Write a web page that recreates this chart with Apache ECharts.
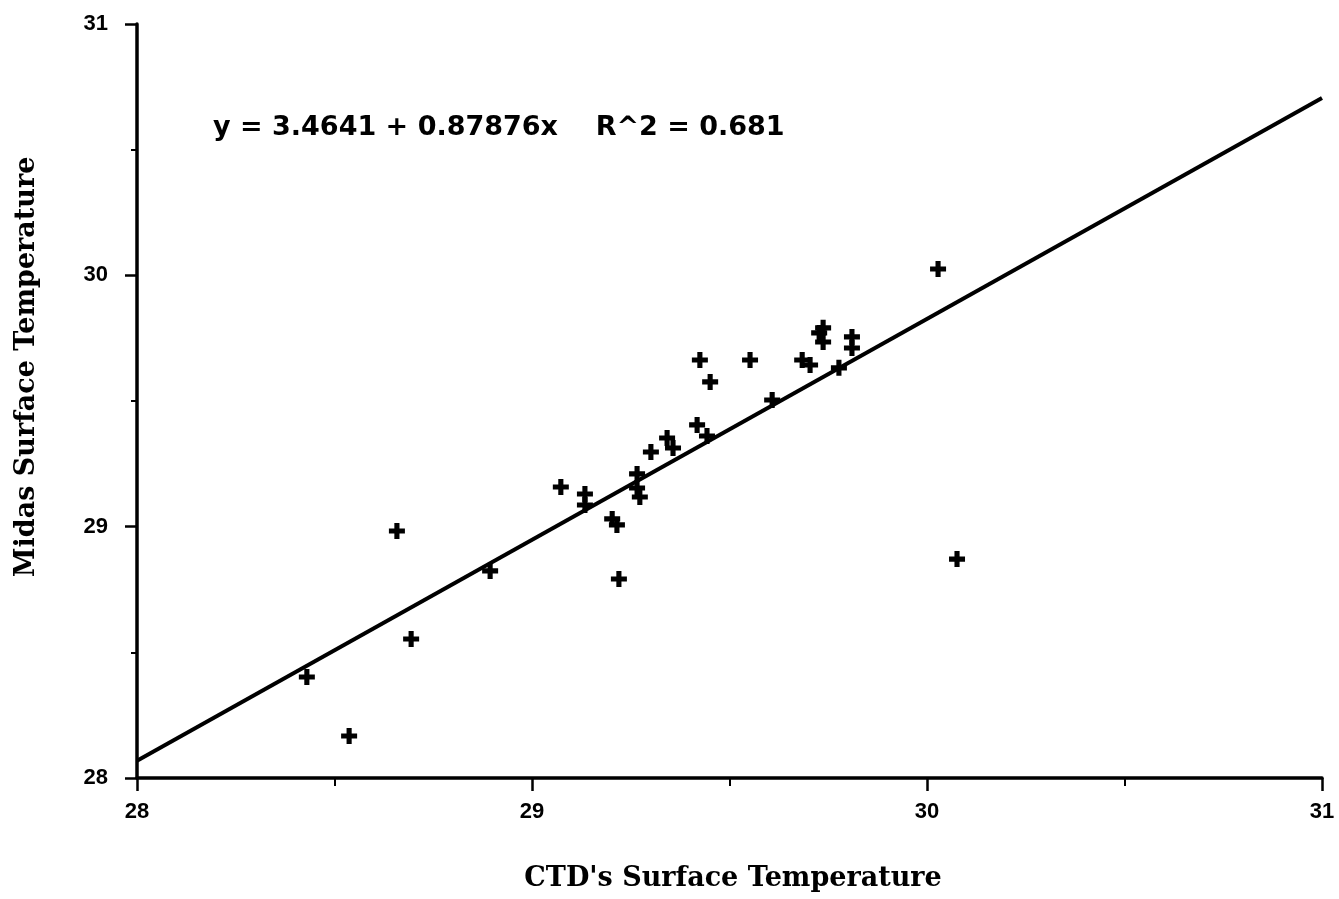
<!DOCTYPE html>
<html>
<head>
<meta charset="utf-8">
<script src="https://cdn.jsdelivr.net/npm/echarts@6/dist/echarts.min.js"></script>
<style>html,body{margin:0;padding:0;background:#fff}#c{width:1339px;height:899px}</style>
</head>
<body>
<div id="c"></div>
<script>
// CTD surface temperature (x) vs Midas surface temperature (y)
const ctdTemp = [28.430, 28.537, 28.658, 28.694, 28.894, 29.073, 29.134, 29.134, 29.203, 29.215, 29.220,
  29.266, 29.266, 29.273, 29.301, 29.342, 29.357, 29.418, 29.425, 29.443, 29.451, 29.552, 29.608,
  29.684, 29.704, 29.727, 29.737, 29.737, 29.777, 29.810, 29.810, 30.028, 30.076];
const midasTemp = [28.402, 28.167, 28.983, 28.553, 28.824, 29.158, 29.130, 29.086, 29.031, 29.007, 28.792,
  29.210, 29.154, 29.118, 29.297, 29.353, 29.313, 29.405, 29.663, 29.361, 29.576, 29.663, 29.504,
  29.663, 29.643, 29.771, 29.791, 29.735, 29.632, 29.755, 29.711, 30.025, 28.871];
// regression line endpoints (y = 3.4641 + 0.87876x)
const fitX = [28, 31];
const fitY = [28.069, 30.706];
const xTicks = [28, 29, 30, 31];
const yTicks = [28, 29, 30, 31];
const equationText = 'y = 3.4641 + 0.87876x    R^2 = 0.681';
const xTitle = "CTD's Surface Temperature";
const yTitle = 'Midas Surface Temperature';

const chart = echarts.init(document.getElementById('c'));
const plus = 'path://M3.4,0 H6.6 V3.4 H10 V6.6 H6.6 V10 H3.4 V6.6 H0 V3.4 H3.4 Z';
const labelStyle = {color:'#000', fontFamily:'Liberation Sans, Arial, sans-serif', fontWeight:'bold', fontSize:22};
const titleFont = 'bold 27px "DejaVu Serif", "Liberation Serif", serif';
chart.setOption({
  animation:false,
  backgroundColor:'#fff',
  grid:{left:137, right:17, top:24, bottom:121, containLabel:false},
  xAxis:{
    type:'value', min:28, max:31, interval:1,
    axisLine:{lineStyle:{color:'#000', width:3.5}},
    axisTick:{show:true, inside:false, length:13, lineStyle:{color:'#000', width:2.5}},
    minorTick:{show:true, splitNumber:2, length:8, lineStyle:{color:'#000', width:2}},
    splitLine:{show:false},
    axisLabel:Object.assign({margin:23, formatter:v=>xTicks.includes(v)?String(v):''}, labelStyle)
  },
  yAxis:{
    type:'value', min:28, max:31, interval:1,
    axisLine:{show:true, lineStyle:{color:'#000', width:3.5}},
    axisTick:{show:true, inside:false, length:12, lineStyle:{color:'#000', width:2.5}},
    minorTick:{show:true, splitNumber:2, length:6, lineStyle:{color:'#000', width:2}},
    splitLine:{show:false},
    axisLabel:Object.assign({margin:29, formatter:v=>yTicks.includes(v)?String(v):''}, labelStyle)
  },
  graphic:[
    {type:'text', left:213, top:114,
     style:{text:equationText, fill:'#000', font:'bold 27px "DejaVu Sans", Arial, sans-serif'}},
    {type:'text', x:733, y:879,
     style:{text:xTitle, fill:'#000', font:titleFont, textAlign:'center', textVerticalAlign:'middle'}},
    {type:'text', x:27, y:367, rotation:Math.PI/2,
     style:{text:yTitle, fill:'#000', font:titleFont, textAlign:'center', textVerticalAlign:'middle'}}
  ],
  series:[
    {
      type:'line', data:fitX.map((x,i)=>[x, fitY[i]]), symbol:'none',
      lineStyle:{color:'#000', width:4}, silent:true, z:2
    },
    {
      type:'scatter', data:ctdTemp.map((x,i)=>[x, midasTemp[i]]),
      symbol:plus, symbolSize:16, itemStyle:{color:'#000', opacity:1}, z:3
    }
  ]
});
</script>
</body>
</html>
